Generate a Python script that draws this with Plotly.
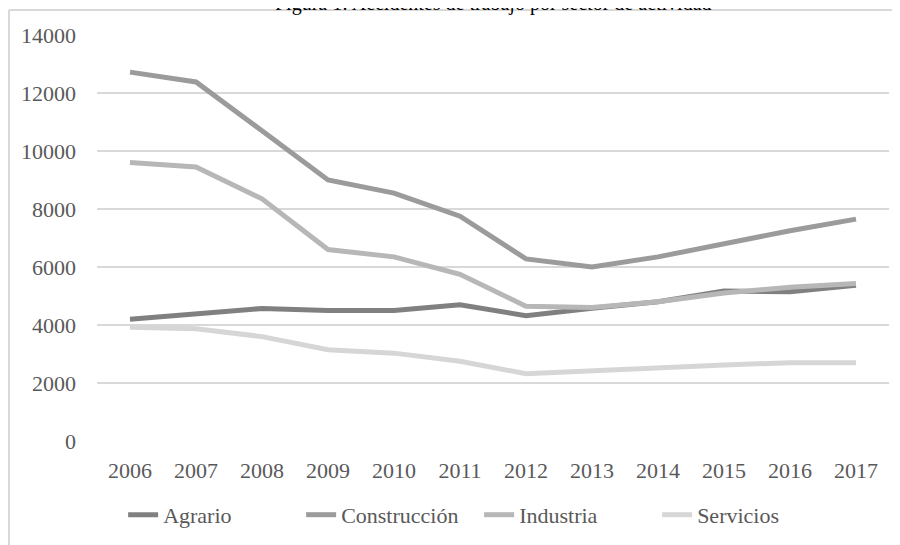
import plotly.graph_objects as go

years = ["2006", "2007", "2008", "2009", "2010", "2011", "2012", "2013", "2014", "2015", "2016", "2017"]
agrario = [4200, 4400, 4570, 4500, 4500, 4700, 4320, 4580, 4800, 5170, 5150, 5370]
construccion = [12720, 12380, 10700, 9000, 8550, 7750, 6280, 6000, 6350, 6800, 7250, 7650]
industria = [9600, 9450, 8350, 6600, 6350, 5750, 4650, 4600, 4800, 5100, 5300, 5430]
servicios = [3920, 3870, 3600, 3150, 3030, 2750, 2320, 2430, 2500, 2620, 2700, 2700]
y_ticks = [0, 2000, 4000, 6000, 8000, 10000, 12000, 14000]
y_labels = ["0", "2000", "4000", "6000", "8000", "10000", "12000", "14000"]
title_text = "Figura 1: Accidentes de trabajo por sector de actividad"

series = [
    ("Agrario", agrario, "#808080"),
    ("Construcción", construccion, "#9b9b9b"),
    ("Industria", industria, "#b7b7b7"),
    ("Servicios", servicios, "#d6d6d6"),
]

fig = go.Figure()
for name, vals, color in series:
    fig.add_trace(go.Scatter(x=years, y=vals, name=name, mode="lines",
                             line=dict(color=color, width=5)))

font_family = "Liberation Serif, Times New Roman, serif"
fig.update_layout(
    width=892, height=537,
    margin=dict(l=89, r=11, t=27, b=104, autoexpand=False),
    paper_bgcolor="white", plot_bgcolor="white",
    font=dict(family=font_family, size=22, color="#595959"),
    showlegend=True,
    legend=dict(orientation="h", x=0.033, xanchor="left", y=-0.182, yanchor="middle",
                font=dict(family=font_family, size=22, color="#595959"),
                entrywidth=133, entrywidthmode="pixels", tracegroupgap=0),
    xaxis=dict(type="category", showgrid=False, showline=False, zeroline=False,
               ticks="", ticklabelstandoff=14, range=[-0.5, 11.5], automargin=False),
    yaxis=dict(range=[0, 14000], tickvals=y_ticks, ticktext=y_labels, showgrid=True,
               gridcolor="#d9d9d9", gridwidth=1.5, zeroline=False, showline=False,
               ticks="", ticklabelstandoff=20, automargin=False),
)

fig.add_annotation(text=title_text, xref="paper", yref="paper", x=0.5, xanchor="center",
                   y=1.0443, yanchor="bottom", showarrow=False,
                   font=dict(family=font_family, size=20, color="black"))

# outer chart border (left and top edges visible)
fig.add_shape(type="line", xref="paper", yref="paper",
              x0=-0.1111, x1=-0.1111, y0=-0.3, y1=1.0616,
              line=dict(color="#d9d9d9", width=2))
fig.add_shape(type="line", xref="paper", yref="paper",
              x0=-0.1111, x1=1.05, y0=1.0616, y1=1.0616,
              line=dict(color="#d9d9d9", width=2))

fig.write_html("out.html")
